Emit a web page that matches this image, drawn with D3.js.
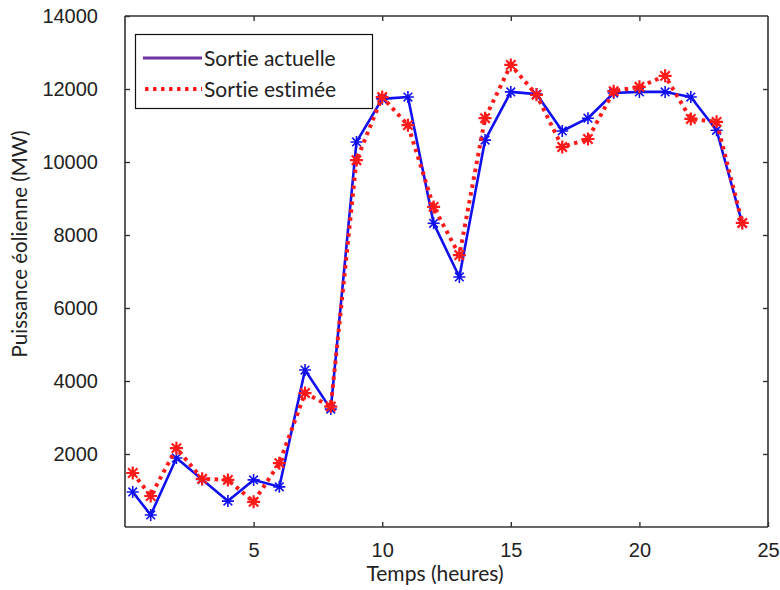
<!DOCTYPE html>
<html>
<head>
<meta charset="utf-8">
<script src="https://cdn.jsdelivr.net/npm/d3@7"></script>
<style>
  body { margin: 0; background: #fff; }
  svg { display: block; font-family: Lato, 'Open Sans', sans-serif; font-variant-ligatures: none; }
</style>
</head>
<body>
<div id="chart"></div>
<script>
// Hours (first sample sits slightly after 0)
const hours = [0.3, 1, 2, 3, 4, 5, 6, 7, 8, 9, 10, 11, 12, 13, 14, 15, 16, 17, 18, 19, 20, 21, 22, 23, 24];

// Sortie actuelle (MW)
const actual = [960, 330, 1890, 1300, 710, 1290, 1100, 4300, 3230, 10550, 11730, 11780, 8320,
  6850, 10600, 11920, 11860, 10850, 11200, 11890, 11920, 11920, 11780, 10870, 8320];

// Sortie estimée (MW)
const estimated = [1480, 850, 2160, 1320, 1290, 690, 1750, 3670, 3300, 10050, 11780, 11010, 8770,
  7450, 11200, 12660, 11840, 10410, 10630, 11940, 12060, 12360, 11180, 11100, 8330];

const xTicks = [5, 10, 15, 20, 25];
const yTicks = [2000, 4000, 6000, 8000, 10000, 12000, 14000];

const W = 780, H = 590;
const plotL = 125, plotR = 768, plotT = 16, plotB = 527;

const svg = d3.select('#chart').append('svg')
  .attr('width', W)
  .attr('height', H);

const x = d3.scaleLinear().domain([0, 25]).range([plotL, plotR]);
const y = d3.scaleLinear().domain([0, 14000]).range([plotB, plotT]);

// box axes, ticks pointing inward (matlab style)
const axisColor = '#333';
const styleAxis = sel => {
  sel.selectAll('path.domain').attr('stroke', axisColor).attr('stroke-width', 1.6);
  sel.selectAll('.tick line').attr('stroke', axisColor).attr('stroke-width', 1.4);
  sel.selectAll('.tick text').attr('fill', '#222').style('font-size', '20px');
};

svg.append('g')
  .attr('transform', `translate(0,${plotB})`)
  .call(d3.axisBottom(x).tickValues(xTicks).tickFormat(d3.format('d'))
    .tickSize(-5).tickSizeOuter(0).tickPadding(16))
  .call(styleAxis)
  .call(g => g.select('path.domain').attr('d', `M${plotL},0H${plotR}`));

svg.append('g')
  .attr('transform', `translate(0,${plotT})`)
  .call(d3.axisTop(x).tickValues(xTicks.slice(0, 4)).tickSize(-5).tickSizeOuter(0).tickFormat(''))
  .call(styleAxis)
  .call(g => g.select('path.domain').attr('d', `M${plotL},0H${plotR}`));

svg.append('g')
  .attr('transform', `translate(${plotL},0)`)
  .call(d3.axisLeft(y).tickValues(yTicks).tickFormat(d3.format('d'))
    .tickSize(-5).tickSizeOuter(0).tickPadding(27))
  .call(styleAxis)
  .call(g => g.select('path.domain').attr('d', `M0,${plotT}V${plotB}`));

svg.append('g')
  .attr('transform', `translate(${plotR},0)`)
  .call(d3.axisRight(y).tickValues(yTicks.slice(0, 6)).tickSize(-5).tickSizeOuter(0).tickFormat(''))
  .call(styleAxis)
  .call(g => g.select('path.domain').attr('d', `M0,${plotT}V${plotB}`));

// axis titles
svg.append('text')
  .attr('x', 435)
  .attr('y', 581)
  .attr('text-anchor', 'middle')
  .attr('fill', '#222')
  .style('font-size', '21px')
  .text('Temps (heures)');

svg.append('text')
  .attr('transform', 'translate(27,244) rotate(-90)')
  .attr('text-anchor', 'middle')
  .attr('fill', '#222')
  .style('font-size', '20.5px')
  .text('Puissance éolienne (MW)');

// asterisk marker like matlab '*'
const star = {
  draw(ctx, size) {
    const r = Math.sqrt(size) / 2, d = r * 0.72;
    ctx.moveTo(-r, 0); ctx.lineTo(r, 0);
    ctx.moveTo(0, -r); ctx.lineTo(0, r);
    ctx.moveTo(-d, -d); ctx.lineTo(d, d);
    ctx.moveTo(-d, d); ctx.lineTo(d, -d);
  }
};

const blue = '#1010f0';
const red = '#ff1a1a';

const line = data => d3.line()
  .x((d, i) => x(hours[i]))
  .y(d => y(d))(data);

// actual output
svg.append('path')
  .attr('fill', 'none')
  .attr('stroke', blue)
  .attr('stroke-width', 2.6)
  .attr('stroke-linejoin', 'round')
  .attr('d', line(actual));

svg.append('g').selectAll('path')
  .data(actual)
  .join('path')
  .attr('transform', (d, i) => `translate(${x(hours[i])},${y(d)})`)
  .attr('d', d3.symbol().type(star).size(144))
  .attr('fill', 'none')
  .attr('stroke', blue)
  .attr('stroke-width', 1.6);

// estimated output
svg.append('path')
  .attr('fill', 'none')
  .attr('stroke', red)
  .attr('stroke-width', 4)
  .attr('stroke-dasharray', '3.5 4.5')
  .attr('d', line(estimated));

svg.append('g').selectAll('path')
  .data(estimated)
  .join('path')
  .attr('transform', (d, i) => `translate(${x(hours[i])},${y(d)})`)
  .attr('d', d3.symbol().type(star).size(169))
  .attr('fill', 'none')
  .attr('stroke', red)
  .attr('stroke-width', 2.2);

// legend
const legend = svg.append('g');
legend.append('rect')
  .attr('x', 135.5).attr('y', 34.5)
  .attr('width', 237).attr('height', 74)
  .attr('fill', '#fff')
  .attr('stroke', '#111')
  .attr('stroke-width', 1.2);

legend.append('line')
  .attr('x1', 143).attr('x2', 202).attr('y1', 58).attr('y2', 58)
  .attr('stroke', '#7030a0').attr('stroke-width', 3);
legend.append('line')
  .attr('x1', 145).attr('x2', 202).attr('y1', 89).attr('y2', 89)
  .attr('stroke', red).attr('stroke-width', 4).attr('stroke-dasharray', '3.5 4.5');

legend.selectAll('text')
  .data(['Sortie actuelle', 'Sortie estimée'])
  .join('text')
  .attr('x', 204)
  .attr('y', (d, i) => 65.5 + i * 31.5)
  .attr('fill', '#222')
  .style('font-size', '21px')
  .text(d => d);
</script>
</body>
</html>
